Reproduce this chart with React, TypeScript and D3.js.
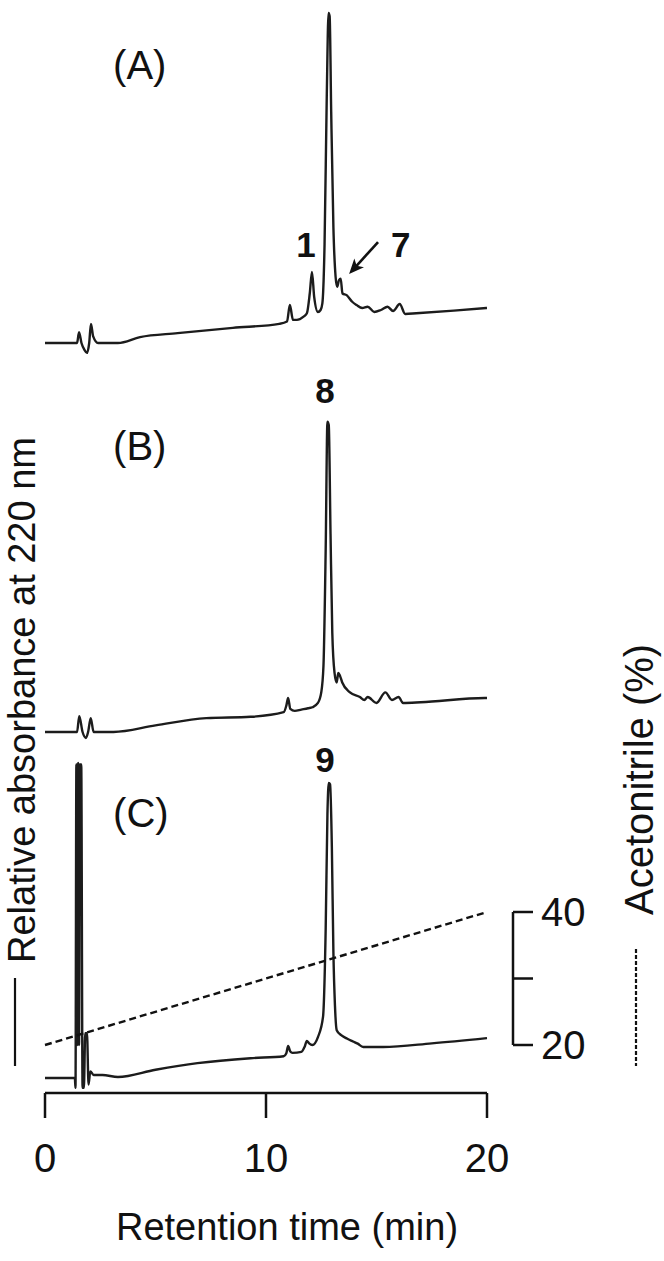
import React from "react";
import * as d3 from "d3";

// Retention time (min) and relative absorbance (arbitrary units, 0 = starting baseline, 100 = peak of A)
const timeA = [0, 1.45, 1.54, 1.65, 1.78, 1.9, 2.0, 2.08, 2.18, 2.4, 3.3, 4.3, 6.0, 8.5, 10.6, 10.95, 11.08, 11.22, 11.4, 11.7, 11.85, 11.98, 12.08, 12.18, 12.35, 12.47, 12.55, 12.65, 12.75, 12.83, 12.88, 12.95, 13.05, 13.15, 13.22, 13.3, 13.38, 13.46, 13.65, 13.9, 14.1, 14.35, 14.6, 14.9, 15.2, 15.5, 15.75, 16.05, 16.3, 16.8, 18.5, 20];
const absA = [0, 0, 3.3, 0, -2, -3, 0, 5.8, 2, 0, 0, 1.8, 3, 4.6, 5.8, 6.5, 11.5, 7, 7, 8, 9, 15, 21.5, 14, 9.4, 10, 12, 30, 75, 100, 99, 70, 35, 20, 17, 19, 19.5, 15, 14.5, 12.5, 11.5, 10.6, 11, 9.4, 10, 11, 9.7, 11.8, 8.8, 9, 9.8, 10.6];

const timeB = [0, 1.45, 1.55, 1.7, 1.85, 1.95, 2.07, 2.2, 2.4, 3.1, 5, 7.3, 9.3, 10.8, 10.92, 11.0, 11.1, 11.3, 11.6, 11.9, 12.1, 12.35, 12.5, 12.6, 12.7, 12.78, 12.84, 12.92, 13.0, 13.1, 13.2, 13.27, 13.35, 13.45, 13.8, 14.25, 14.45, 14.6, 15.0, 15.4, 15.7, 16.0, 16.2, 17, 19.9, 20];
const absB = [0, 0, 4.8, 0, -1.8, 0, 4.2, 0, 0, 0, 2, 4.2, 4.6, 6, 8, 10.3, 7, 6.4, 6.8, 7.2, 7.5, 8.8, 12, 20, 55, 94, 93, 60, 30, 18, 15, 17.9, 17, 15, 12, 10.6, 9.7, 10.6, 8.8, 12, 9.7, 10.6, 8.8, 9, 10.3, 10.3];

const timeC = [0, 1.35, 1.38, 1.42, 1.46, 1.5, 1.54, 1.58, 1.64, 1.7, 1.76, 1.82, 1.9, 1.97, 2.05, 2.2, 2.6, 3.3, 5, 6.9, 9.3, 10.8, 10.92, 11.0, 11.1, 11.2, 11.6, 11.75, 11.85, 11.95, 12.1, 12.35, 12.58, 12.7, 12.78, 12.84, 12.9, 12.98, 13.05, 13.12, 13.2, 13.4, 13.65, 13.85, 14.0, 14.15, 14.4, 15.3, 17.5, 20];
const absC = [0, 0, -3, 95, 10, 95.5, 10, 95, 95, -3, -3, 13.6, 13.6, -2, 2, 0.9, 0.9, 0.3, 2.5, 4.5, 6, 6.6, 7.5, 9.7, 8, 7.6, 7.9, 9.5, 11.2, 10.5, 10, 12.4, 18.5, 45, 80, 89.4, 89, 70, 38, 22, 14.5, 13, 12, 11.3, 10.9, 10.4, 9.4, 9.4, 10.5, 12.1];

const gradientTime = [0, 20];
const acetonitrile = [20, 40];

const xTicks = [0, 10, 20];
const acnTicks = [20, 30, 40];
const acnTickLabels = ["20", "", "40"];

const panelNames = ["(A)", "(B)", "(C)"];
const peakLabels = [
  { panel: 0, text: "1", t: 11.81, v: 26 },
  { panel: 0, text: "7", t: 16.1, v: 26 },
  { panel: 1, text: "8", t: 12.67, v: 99.7 },
  { panel: 2, text: "9", t: 12.67, v: 92.7 },
];
const arrowFrom = { t: 15.07, v: 30.6 };
const arrowTo = { t: 13.76, v: 20.9 };

const FONT = "'Liberation Sans', Arial, Helvetica, sans-serif";

export default function App() {
  const W = 664, H = 1261;
  const x = d3.scaleLinear().domain([0, 20]).range([45, 487]);
  const offsets = [343, 732, 1078];
  const ys = offsets.map((o) => d3.scaleLinear().domain([0, 100]).range([o, o - 330]));
  const yAcn = d3.scaleLinear().domain([20, 40]).range([1045, 912]);

  const series = [
    d3.zip(timeA, absA),
    d3.zip(timeB, absB),
    d3.zip(timeC, absC),
  ];
  const lines = series.map((s, i) =>
    d3.line<number[]>().x((d) => x(d[0])).y((d) => ys[i](d[1])).curve(d3.curveMonotoneX)(s) || ""
  );
  const gradLine = d3.line<number[]>().x((d) => x(d[0])).y((d) => yAcn(d[1]))(d3.zip(gradientTime, acetonitrile)) || "";

  const ax = 1093;
  const a1 = [x(arrowFrom.t), ys[0](arrowFrom.v)];
  const a2 = [x(arrowTo.t), ys[0](arrowTo.v)];
  const ang = Math.atan2(a2[1] - a1[1], a2[0] - a1[0]);
  const hl = 15, hw = 6.5;
  const head = [
    [a2[0], a2[1]],
    [a2[0] - hl * Math.cos(ang) + hw * Math.sin(ang), a2[1] - hl * Math.sin(ang) - hw * Math.cos(ang)],
    [a2[0] - hl * Math.cos(ang) * 0.75, a2[1] - hl * Math.sin(ang) * 0.75],
    [a2[0] - hl * Math.cos(ang) - hw * Math.sin(ang), a2[1] - hl * Math.sin(ang) + hw * Math.cos(ang)],
  ];

  return (
    <svg width={W} height={H} style={{ display: "block", position: "absolute", left: 0, top: 0, background: "#fff" }} fontFamily={FONT}>
      <rect width={W} height={H} fill="#fff" />
      {lines.map((d, i) => (
        <path key={i} d={d} fill="none" stroke="#1c1c1c" strokeWidth={2.4} strokeLinejoin="round" />
      ))}
      <path d={gradLine} fill="none" stroke="#111" strokeWidth={2.4} strokeDasharray="7,4" />

      {panelNames.map((p, i) => (
        <text key={p} x={x(3.08)} y={[79, 460, 827][i]} fontSize={40} fill="#111">{p}</text>
      ))}
      {peakLabels.map((l) => (
        <text key={l.text} x={x(l.t)} y={ys[l.panel](l.v)} fontSize={35} fontWeight="bold" textAnchor="middle" fill="#111">{l.text}</text>
      ))}
      <line x1={a1[0]} y1={a1[1]} x2={a2[0] - 8 * Math.cos(ang)} y2={a2[1] - 8 * Math.sin(ang)} stroke="#111" strokeWidth={2.6} />
      <polygon points={head.map((p) => p.join(",")).join(" ")} fill="#111" />

      {/* x axis */}
      <line x1={x(0)} x2={x(20)} y1={ax} y2={ax} stroke="#111" strokeWidth={2.5} />
      {xTicks.map((t) => (
        <g key={t}>
          <line x1={x(t)} x2={x(t)} y1={ax} y2={ax + 25} stroke="#111" strokeWidth={2.5} />
          <text x={x(t)} y={1172} fontSize={40} textAnchor="middle" fill="#111">{t}</text>
        </g>
      ))}
      <text x={287} y={1240} fontSize={38} textAnchor="middle" fill="#111">Retention time (min)</text>

      {/* acetonitrile axis */}
      <line x1={513} x2={513} y1={yAcn(40)} y2={yAcn(20)} stroke="#111" strokeWidth={2.5} />
      {acnTicks.map((t, i) => (
        <g key={t}>
          <line x1={513} x2={533} y1={yAcn(t)} y2={yAcn(t)} stroke="#111" strokeWidth={2.5} />
          {acnTickLabels[i] && (
            <text x={541} y={yAcn(t) + 14} fontSize={40} fill="#111">{acnTickLabels[i]}</text>
          )}
        </g>
      ))}

      {/* left axis title and key */}
      <text transform="translate(35,963) rotate(-90)" fontSize={38} fill="#111">Relative absorbance at 220 nm</text>
      <line x1={15} x2={15} y1={978} y2={1066} stroke="#111" strokeWidth={2.2} />

      {/* right axis title and key */}
      <text transform="translate(653,915) rotate(-90)" fontSize={40} fill="#111">Acetonitrile (%)</text>
      <line x1={636} x2={636} y1={949} y2={1066} stroke="#111" strokeWidth={2.2} strokeDasharray="4,2" />
    </svg>
  );
}
